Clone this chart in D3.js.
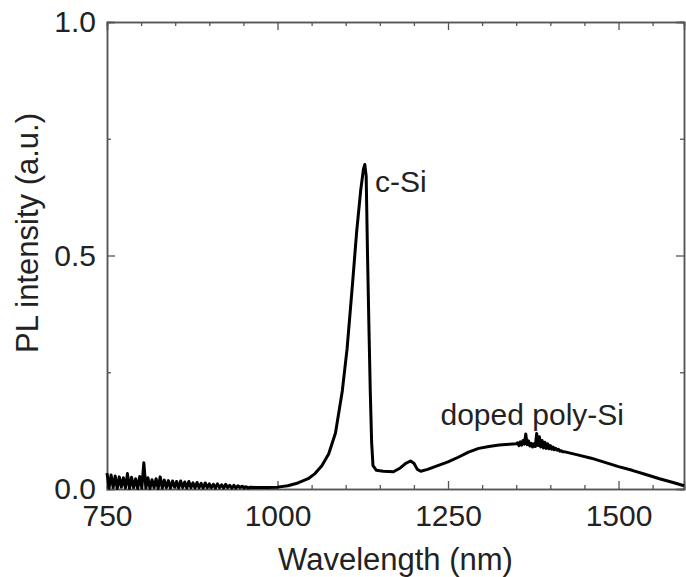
<!DOCTYPE html>
<html>
<head>
<meta charset="utf-8">
<script src="https://cdn.jsdelivr.net/npm/d3@7"></script>
<style>
  body { margin: 0; background: #fff; }
  text { font-family: "Liberation Sans", Arial, sans-serif; fill: #222; }
</style>
</head>
<body>
<div id="chart"></div>
<script>
// PL spectrum (wavelength in nm, intensity in a.u.)
const wavelengthNm = [
  750, 753, 756, 759, 762, 765, 768, 771, 774, 777, 780, 783, 786, 789, 792, 795, 798, 801, 804, 807,
  810, 813, 816, 819, 822, 825, 828, 831, 834, 837, 840, 843, 846, 849, 852, 855, 858, 861, 864, 867,
  870, 873, 876, 879, 882, 885, 888, 891, 894, 897, 900, 903, 906, 909, 912, 915, 918, 921, 924, 927,
  930, 933, 936, 939, 942, 945, 948, 951, 954, 957, 960,
  970, 985, 1000, 1015, 1030, 1045, 1055, 1065, 1075, 1085, 1095, 1102, 1110, 1116, 1122, 1126, 1128,
  1130, 1132, 1134, 1136, 1138, 1140, 1145, 1155, 1170, 1180, 1188, 1195, 1200, 1205, 1210, 1220,
  1235, 1250, 1265, 1280, 1295, 1310, 1325, 1340, 1350,
  1352, 1354, 1356, 1358, 1360, 1362, 1364, 1366, 1368, 1370, 1372, 1374, 1376, 1378, 1380, 1382,
  1384, 1386, 1388, 1390, 1392, 1394, 1396, 1398, 1400, 1402, 1404, 1406, 1408, 1410, 1412, 1414,
  1416, 1418, 1420,
  1440, 1460, 1480, 1500, 1520, 1540, 1560, 1580, 1596
];
const plIntensity = [
  0.034, 0.002, 0.030, 0.003, 0.028, 0.001, 0.026, 0.004, 0.024, 0.002, 0.033, 0.001, 0.025, 0.003, 0.022, 0.001, 0.027, 0.002, 0.056, 0.002,
  0.024, 0.001, 0.020, 0.003, 0.022, 0.001, 0.026, 0.002, 0.019, 0.003, 0.018, 0.002, 0.017, 0.004, 0.016, 0.002, 0.017, 0.003, 0.015, 0.002,
  0.016, 0.003, 0.013, 0.002, 0.014, 0.003, 0.012, 0.002, 0.013, 0.003, 0.011, 0.003, 0.010, 0.002, 0.011, 0.003, 0.009, 0.002, 0.010, 0.003,
  0.008, 0.002, 0.008, 0.002, 0.007, 0.003, 0.006, 0.002, 0.005, 0.002, 0.004,
  0.003, 0.003, 0.004, 0.007, 0.013, 0.022, 0.033, 0.050, 0.075, 0.120, 0.210, 0.300, 0.440, 0.550, 0.640, 0.685, 0.695,
  0.670, 0.500, 0.350, 0.210, 0.100, 0.050, 0.040, 0.038, 0.037, 0.045, 0.055, 0.060, 0.055, 0.042, 0.038, 0.042,
  0.050, 0.058, 0.068, 0.079, 0.087, 0.091, 0.094, 0.096, 0.097,
  0.099, 0.093, 0.101, 0.094, 0.104, 0.096, 0.118, 0.095, 0.103, 0.092, 0.098, 0.090, 0.097, 0.091, 0.119, 0.093,
  0.112, 0.090, 0.104, 0.088, 0.100, 0.087, 0.097, 0.086, 0.093, 0.085, 0.090, 0.084, 0.087, 0.083, 0.085, 0.081,
  0.082, 0.080, 0.080,
  0.073, 0.066, 0.057, 0.048, 0.040, 0.031, 0.022, 0.014, 0.007
];

const xTickLabels = [750, 1000, 1250, 1500];
const yTickLabels = [0.0, 0.5, 1.0];
const peakLabels = [
  { text: "c-Si", wl: 1143, val: 0.635 },
  { text: "doped poly-Si", wl: 1239, val: 0.137 }
];

const W = 686, H = 577;
const margin = { top: 22, right: 2, bottom: 88, left: 107 };
const width = W - margin.left - margin.right;
const height = H - margin.top - margin.bottom;

const svg = d3.select('#chart').append('svg').attr('width', W).attr('height', H);
const g = svg.append('g').attr('transform', 'translate(' + margin.left + ',' + margin.top + ')');

const x = d3.scaleLinear().domain([750, 1596]).range([0, width]);
const y = d3.scaleLinear().domain([0, 1]).range([height, 0]);

const axisColor = '#555';

// minor ticks every 50 nm / 0.25, majors labelled
const xMinor = d3.range(800, 1596, 50).filter(v => !xTickLabels.includes(v));
const yMinor = [0.25, 0.75];

function tickAxis(axis, values, size) {
  return axis.tickValues(values).tickSize(size).tickFormat('');
}

// bottom
g.append('g').attr('transform', 'translate(0,' + height + ')')
  .call(tickAxis(d3.axisBottom(x), xMinor, -4));
g.append('g').attr('transform', 'translate(0,' + height + ')')
  .call(d3.axisBottom(x).tickValues(xTickLabels).tickSize(-8).tickPadding(16).tickFormat(d3.format('d')))
  .call(s => s.selectAll('text').attr('font-size', 30).attr('fill', '#222').attr('dy', '0.71em'));
// top
g.append('g').call(tickAxis(d3.axisTop(x), xMinor, -4));
g.append('g').call(tickAxis(d3.axisTop(x), xTickLabels, -8));
// left
g.append('g').call(tickAxis(d3.axisLeft(y), yMinor, -4));
g.append('g')
  .call(d3.axisLeft(y).tickValues(yTickLabels).tickSize(-8).tickPadding(11).tickFormat(d3.format('.1f')))
  .call(s => s.selectAll('text').attr('font-size', 30).attr('fill', '#222'));
// right
g.append('g').attr('transform', 'translate(' + width + ',0)').call(tickAxis(d3.axisRight(y), yMinor, -4));
g.append('g').attr('transform', 'translate(' + width + ',0)').call(tickAxis(d3.axisRight(y), yTickLabels, -8));

g.selectAll('.domain').attr('stroke', axisColor).attr('stroke-width', 1.5);
g.selectAll('.tick line').attr('stroke', axisColor).attr('stroke-width', 1.3);

// spectrum
const pts = wavelengthNm.map((w, i) => [w, plIntensity[i]]);
g.append('path')
  .datum(pts)
  .attr('fill', 'none')
  .attr('stroke', '#000')
  .attr('stroke-width', 3)
  .attr('stroke-linejoin', 'round')
  .attr('d', d3.line().x(d => x(d[0])).y(d => y(d[1])));

// annotations
g.selectAll('.peak-label')
  .data(peakLabels)
  .join('text')
  .attr('class', 'peak-label')
  .attr('x', d => x(d.wl))
  .attr('y', d => y(d.val))
  .attr('font-size', 30)
  .text(d => d.text);

// axis titles
svg.append('text')
  .attr('x', margin.left + width / 2)
  .attr('y', 570)
  .attr('text-anchor', 'middle')
  .attr('font-size', 31)
  .text('Wavelength (nm)');

svg.append('text')
  .attr('transform', 'translate(38,233) rotate(-90)')
  .attr('text-anchor', 'middle')
  .attr('font-size', 31)
  .text('PL intensity (a.u.)');
</script>
</body>
</html>
